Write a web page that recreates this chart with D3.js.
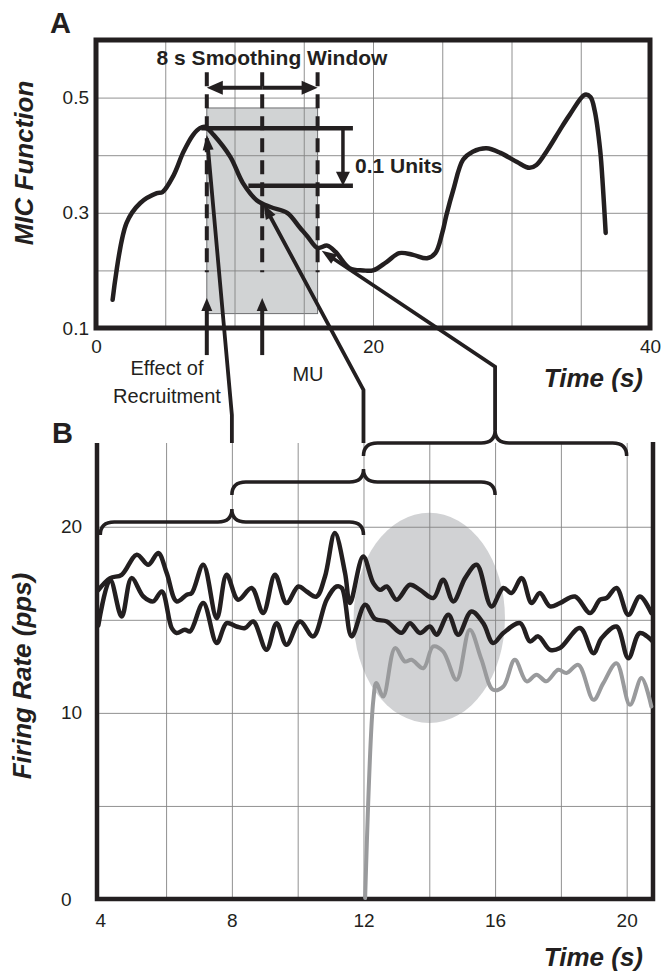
<!DOCTYPE html>
<html lang="en">
<head>
<meta charset="UTF-8">
<title>MIC function and motor unit firing rates</title>
<script src="https://cdnjs.cloudflare.com/ajax/libs/d3/7.8.5/d3.min.js"></script>
<style>
  body { margin: 0; background: #fff; }
  svg text { font-family: "Liberation Sans", Arial, sans-serif; fill: #231f20; }
  .grid line { stroke: #858585; stroke-width: 0.9; }
  .grid path { display: none; }
  .ticks path { display: none; }
  .ticks text { font-size: 19px; fill: #231f20; }
</style>
</head>
<body>
<div id="chart"></div>
<script>
// Panel A: MIC function over the contraction
const micTime = [1.2, 2.2, 3.2, 4.4, 4.8, 5.6, 6.3, 7.0, 7.5, 7.9, 8.5, 9.7, 10.6, 11.6,
  12.6, 13.8, 14.7, 15.3, 16.0, 16.7, 17.3, 18.3, 19.3, 20.0, 21.0, 21.9, 22.9, 23.9, 24.5,
  25.0, 25.3, 25.8, 26.5, 27.2, 28.2, 29.2, 30.4, 31.3, 31.8, 32.6, 33.5, 34.2, 35.3, 35.7,
  36.0, 36.4, 36.6, 36.8];
const micValue = [0.149, 0.282, 0.317, 0.334, 0.336, 0.365, 0.405, 0.435, 0.447, 0.449, 0.435, 0.397, 0.352, 0.322,
  0.310, 0.300, 0.275, 0.258, 0.239, 0.243, 0.232, 0.204, 0.200, 0.200, 0.215, 0.230, 0.227, 0.221, 0.230,
  0.265, 0.296, 0.340, 0.392, 0.406, 0.412, 0.404, 0.388, 0.378, 0.383, 0.409, 0.444, 0.470, 0.505, 0.501,
  0.478, 0.409, 0.345, 0.265];
const micXTicks = [0, 20, 40];
const micYTicks = [0.1, 0.3, 0.5];
const micXGrid = [5, 10, 15, 20, 25, 30, 35];
const micYGrid = [0.2, 0.3, 0.4, 0.5];

// smoothing window (s) and the two MIC levels 0.1 units apart
const windowStart = 8, windowMid = 12, windowEnd = 16;
const windowLow = 0.125, windowHigh = 0.482;
const peakLevel = 0.447, dropLevel = 0.347;

// Panel B: firing rates of three motor units
const mu1Time = [3.94, 4.30, 4.65, 5.11, 5.46, 5.76, 6.02, 6.32, 6.63, 6.78, 7.13, 7.54, 7.84, 8.19, 8.60,
  8.95, 9.31, 9.66, 10.02, 10.27, 10.57, 10.83, 11.13, 11.44, 11.59, 11.99, 12.30, 12.50, 12.71, 13.01,
  13.41, 13.72, 14.12, 14.42, 14.73, 15.09, 15.44, 15.89, 16.25, 16.50, 16.81, 17.11, 17.36, 17.67, 17.97,
  18.43, 18.89, 19.19, 19.39, 19.69, 20.05, 20.40, 20.75];
const mu1Rate = [16.6, 17.24, 17.42, 18.50, 17.96, 18.59, 17.51, 15.99, 16.35, 16.44, 17.96, 15.09, 17.42, 16.08, 16.71,
  15.36, 17.42, 15.90, 16.79, 16.52, 16.25, 17.33, 19.66, 17.51, 15.90, 18.40, 16.97, 16.61, 16.79, 16.08,
  16.88, 16.61, 16.17, 17.15, 15.99, 17.24, 17.96, 15.72, 16.71, 16.44, 17.24, 15.90, 16.44, 15.72, 15.90,
  16.25, 15.36, 16.08, 16.17, 16.71, 15.27, 16.25, 15.36];
const mu2Time = [3.94, 4.30, 4.65, 4.95, 5.31, 5.61, 5.87, 6.17, 6.32, 6.57, 6.73, 7.13, 7.54, 7.84, 8.14,
  8.40, 8.65, 9.05, 9.36, 9.66, 10.07, 10.47, 10.88, 11.18, 11.34, 11.64, 12.05, 12.35, 12.71, 13.15,
  13.41, 13.72, 14.02, 14.22, 14.58, 14.88, 15.28, 15.64, 15.94, 16.25, 16.76, 17.06, 17.31, 17.67, 17.97,
  18.58, 18.99, 19.24, 19.69, 20.05, 20.40, 20.79];
const mu2Rate = [14.7, 17.15, 15.18, 17.24, 16.25, 15.99, 16.52, 14.56, 14.29, 14.47, 14.38, 15.90, 13.75, 14.82, 14.64,
  14.56, 14.91, 13.39, 14.82, 13.66, 14.91, 14.11, 16.08, 16.79, 16.71, 14.11, 15.81, 15.05, 14.91, 14.3,
  14.82, 14.29, 14.64, 14.2, 15.27, 14.2, 15.45, 14.82, 13.75, 14.29, 14.82, 13.84, 14.11, 13.39, 13.48,
  14.56, 13.21, 14.02, 14.64, 12.94, 14.29, 13.84];
const mu3Time = [12.05, 12.3, 12.39, 12.6, 12.96, 13.26, 13.46, 13.82, 14.12, 14.42, 14.83, 15.23, 15.58, 15.94,
  16.25, 16.6, 16.96, 17.26, 17.56, 17.92, 18.17, 18.53, 18.99, 19.29, 19.69, 20.1, 20.45, 20.75];
const mu3Rate = [0.05, 10.7, 11.6, 10.88, 13.48, 12.76, 12.85, 12.40, 13.57, 13.3, 11.78, 14.47, 12.9, 11.24,
  11.42, 12.85, 11.69, 12.05, 11.7, 12.32, 12.14, 12.58, 10.7, 11.6, 12.67, 10.43, 11.87, 10.34];
const rateXTicks = [4, 8, 12, 16, 20];
const rateYTicks = [0, 10, 20];
const rateXGrid = [6, 8, 10, 12, 14, 16, 18, 20];
const rateYGrid = [5, 10, 15, 20];

// recruitment region (ellipse) and the three 8 s windows
const recruitCenter = [14.0, 15.1], recruitRadius = [2.3, 5.65];
const braceFrom = [4, 8, 12];
const braceTo = [12, 16, 20];
const braceLevel = [20.25, 22.4, 24.5];

// links from window centres in B to MIC points in A
const linkTimeB = [8, 12, 16];
const linkStartB = [24.5, 24.5, 25.2];
const linkElbowB = [26.0, 27.35, 28.6];
const linkTimeA = [8.0, 12.1, 16.3];
const linkValueA = [0.435, 0.315, 0.234];

const ink = "#231f20";
const width = 667, height = 973;

const svg = d3.select("#chart").append("svg")
  .attr("width", width).attr("height", height);

// ---------- scales ----------
const aL = 96, aR = 650, aT = 40, aB = 328;
const bL = 97, bR = 653, bT = 443, bB = 899;
const xA = d3.scaleLinear().domain([0, 40]).range([aL, aR]);
const yA = d3.scaleLinear().domain([0.1, 0.6]).range([aB, aT]);
const xB = d3.scaleLinear().domain([3.9, 20.8]).range([bL, bR]);
const yB = d3.scaleLinear().domain([0, 24.5]).range([bB, bT]);

// arrow with a filled head at the last point
function arrow(g, pts, len = 14, wid = 11, w = 4) {
  const n = pts.length;
  const [xa, ya] = pts[n - 2], [xb, yb] = pts[n - 1];
  const L = Math.hypot(xb - xa, yb - ya);
  const ux = (xb - xa) / L, uy = (yb - ya) / L;
  const line = pts.slice(0, n - 1).concat([[xb - ux * len * 0.8, yb - uy * len * 0.8]]);
  g.append("path").attr("d", d3.line()(line))
    .attr("fill", "none").attr("stroke", ink).attr("stroke-width", w);
  const bx = xb - ux * len, by = yb - uy * len;
  g.append("path")
    .attr("d", `M${xb},${yb}L${bx - uy * wid / 2},${by + ux * wid / 2}L${bx + uy * wid / 2},${by - ux * wid / 2}Z`)
    .attr("fill", ink);
}

function brace(g, x0, x1, y, d, r) {
  const xm = (x0 + x1) / 2;
  g.append("path")
    .attr("d", `M${x0},${y + d}Q${x0},${y} ${x0 + r},${y}L${xm - r},${y}Q${xm},${y} ${xm},${y - d}` +
      `Q${xm},${y} ${xm + r},${y}L${x1 - r},${y}Q${x1},${y} ${x1},${y + d}`)
    .attr("fill", "none").attr("stroke", ink).attr("stroke-width", 3.5);
}

// ---------- panel A ----------
const gA = svg.append("g");

gA.append("rect")
  .attr("x", xA(windowStart)).attr("y", yA(windowHigh))
  .attr("width", xA(windowEnd) - xA(windowStart))
  .attr("height", yA(windowLow) - yA(windowHigh))
  .attr("fill", "#d1d3d4").attr("stroke", "#6d6e71").attr("stroke-width", 1);

gA.append("g").attr("class", "grid")
  .attr("transform", `translate(0,${aB})`)
  .call(d3.axisBottom(xA).tickValues(micXGrid).tickSize(-(aB - aT)).tickFormat(""));
gA.append("g").attr("class", "grid")
  .attr("transform", `translate(${aL},0)`)
  .call(d3.axisLeft(yA).tickValues(micYGrid).tickSize(-(aR - aL)).tickFormat(""));

gA.append("rect")
  .attr("x", aL).attr("y", aT).attr("width", aR - aL).attr("height", aB - aT)
  .attr("fill", "none").attr("stroke", ink).attr("stroke-width", 5);

gA.append("g").attr("class", "ticks")
  .attr("transform", `translate(${aL},0)`)
  .call(d3.axisLeft(yA).tickValues(micYTicks).tickSize(0).tickPadding(7).tickFormat(d3.format(".1f")));
gA.append("g").attr("class", "ticks")
  .attr("transform", `translate(0,${aB})`)
  .call(d3.axisBottom(xA).tickValues(micXTicks).tickSize(0).tickPadding(12));

// dashed window boundaries and centre
gA.selectAll(".win").data([windowStart, windowMid, windowEnd]).join("line")
  .attr("x1", d => xA(d)).attr("x2", d => xA(d))
  .attr("y1", yA(0.544)).attr("y2", yA(0.197))
  .attr("stroke", ink).attr("stroke-width", 4).attr("stroke-dasharray", "14,8");

// double arrow over the window
{
  const y = yA(0.517), x0 = xA(windowStart), x1 = xA(windowEnd), m = (x0 + x1) / 2;
  arrow(gA, [[m, y], [x0, y]], 16, 14, 4);
  arrow(gA, [[m, y], [x1, y]], 16, 14, 4);
}

// 0.1 unit drop marker
gA.append("line").attr("x1", xA(7.6)).attr("x2", xA(18.55))
  .attr("y1", yA(peakLevel)).attr("y2", yA(peakLevel))
  .attr("stroke", ink).attr("stroke-width", 4.5);
gA.append("line").attr("x1", xA(11.0)).attr("x2", xA(18.55))
  .attr("y1", yA(dropLevel)).attr("y2", yA(dropLevel))
  .attr("stroke", ink).attr("stroke-width", 4.5);
arrow(gA, [[xA(17.83), yA(peakLevel)], [xA(17.83), yA(dropLevel)]], 14, 14, 3.5);

// up arrows for recruitment and MU
[windowStart, windowMid].forEach(t => {
  arrow(gA, [[xA(t), yA(0.053)], [xA(t), yA(0.152)]], 13, 11, 4);
});

// MIC curve
gA.append("path")
  .datum(micTime.map((t, i) => [t, micValue[i]]))
  .attr("d", d3.line().x(d => xA(d[0])).y(d => yA(d[1])).curve(d3.curveCatmullRom.alpha(0.5)))
  .attr("fill", "none").attr("stroke", ink).attr("stroke-width", 4.5)
  .attr("stroke-linecap", "round").attr("stroke-linejoin", "round");

// ---------- panel B ----------
const gB = svg.append("g");

gB.append("ellipse")
  .attr("cx", xB(recruitCenter[0])).attr("cy", yB(recruitCenter[1]))
  .attr("rx", xB(recruitCenter[0] + recruitRadius[0]) - xB(recruitCenter[0]))
  .attr("ry", yB(recruitCenter[1] - recruitRadius[1]) - yB(recruitCenter[1]))
  .attr("fill", "#d1d2d4");

gB.append("g").attr("class", "grid")
  .attr("transform", `translate(0,${bB})`)
  .call(d3.axisBottom(xB).tickValues(rateXGrid).tickSize(-(bB - bT)).tickFormat(""));
gB.append("g").attr("class", "grid")
  .attr("transform", `translate(${bL},0)`)
  .call(d3.axisLeft(yB).tickValues(rateYGrid).tickSize(-(bR - bL)).tickFormat(""));

gB.append("path")
  .attr("d", `M${bL},${bT}L${bL},${bB}L${bR},${bB}L${bR},${bT - 1}`)
  .attr("fill", "none").attr("stroke", ink).attr("stroke-width", 4.5);

const yTickB = gB.append("g").attr("class", "ticks")
  .attr("transform", `translate(${bL},0)`)
  .call(d3.axisLeft(yB).tickValues(rateYTicks).tickSize(0));
yTickB.selectAll("text").attr("text-anchor", "start").attr("x", -36);
gB.append("g").attr("class", "ticks")
  .attr("transform", `translate(0,${bB})`)
  .call(d3.axisBottom(xB).tickValues(rateXTicks).tickSize(0).tickPadding(15));

const rateLine = d3.line().x(d => xB(d[0])).y(d => yB(d[1])).curve(d3.curveCatmullRom.alpha(0.5));
[[mu3Time, mu3Rate, "#999a9c", 4], [mu2Time, mu2Rate, ink, 4.5], [mu1Time, mu1Rate, ink, 4.5]]
  .forEach(([ts, vs, col, w]) => {
    gB.append("path")
      .datum(ts.map((t, i) => [t, vs[i]]))
      .attr("d", rateLine)
      .attr("fill", "none").attr("stroke", col).attr("stroke-width", w)
      .attr("stroke-linecap", "round").attr("stroke-linejoin", "round");
  });

braceFrom.forEach((t, i) => brace(gB, xB(t), xB(braceTo[i]), yB(braceLevel[i]), 13, 14));

// links between panels
linkTimeB.forEach((t, i) => {
  arrow(svg, [[xB(t), yB(linkStartB[i])], [xB(t), yB(linkElbowB[i])], [xA(linkTimeA[i]), yA(linkValueA[i])]], 15, 11, 3.8);
});

// ---------- text ----------
svg.append("text").attr("x", 50).attr("y", 33)
  .style("font-size", "29px").style("font-weight", "bold").text("A");
svg.append("text").attr("x", 52).attr("y", 443)
  .style("font-size", "29px").style("font-weight", "bold").text("B");

svg.append("text").attr("x", 272).attr("y", 65).attr("text-anchor", "middle")
  .style("font-size", "21px").style("font-weight", "bold").text("8 s Smoothing Window");
svg.append("text").attr("x", 355).attr("y", 173)
  .style("font-size", "21px").style("font-weight", "bold").text("0.1 Units");

svg.append("text").attr("x", 167).attr("y", 375).attr("text-anchor", "middle")
  .style("font-size", "20px").text("Effect of");
svg.append("text").attr("x", 167).attr("y", 403).attr("text-anchor", "middle")
  .style("font-size", "20px").text("Recruitment");
svg.append("text").attr("x", 308).attr("y", 381).attr("text-anchor", "middle")
  .style("font-size", "20px").text("MU");

[387, 966].forEach(y => {
  svg.append("text").attr("x", 643).attr("y", y).attr("text-anchor", "end")
    .style("font-size", "26px").style("font-weight", "bold").style("font-style", "italic")
    .text("Time (s)");
});

svg.append("text").attr("transform", "translate(33,163) rotate(-90)").attr("text-anchor", "middle")
  .style("font-size", "26px").style("font-weight", "bold").style("font-style", "italic")
  .text("MIC Function");
svg.append("text").attr("transform", "translate(31,676) rotate(-90)").attr("text-anchor", "middle")
  .style("font-size", "26px").style("font-weight", "bold").style("font-style", "italic")
  .text("Firing Rate (pps)");
</script>
</body>
</html>
